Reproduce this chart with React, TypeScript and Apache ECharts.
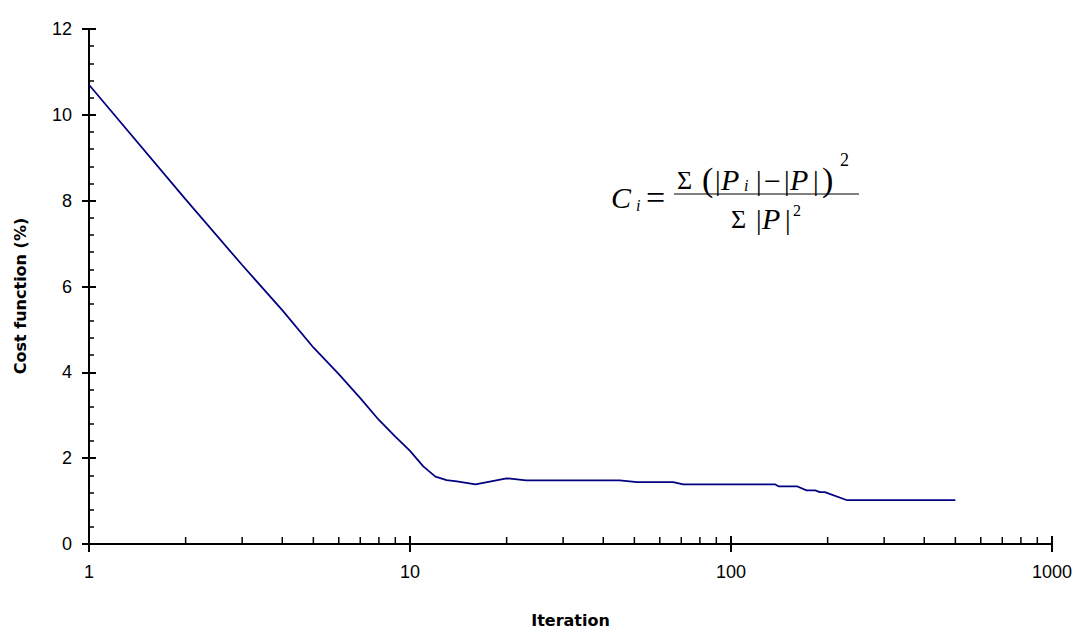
import React, { useEffect, useRef } from "react";
import * as echarts from "echarts";

// Data
const iterations = [1, 2, 3, 4, 5, 6, 7, 8, 9, 10, 11, 12, 13, 14, 16, 20, 23, 45, 51, 66, 71, 137, 141, 161, 172, 183, 189, 196, 230, 500];
const cost = [10.7, 8.03, 6.5, 5.45, 4.58, 3.96, 3.4, 2.89, 2.5, 2.17, 1.81, 1.57, 1.49, 1.46, 1.39, 1.53, 1.48, 1.48, 1.44, 1.44, 1.39, 1.39, 1.34, 1.34, 1.25, 1.25, 1.21, 1.21, 1.02, 1.02];
const xMinorTicks = [2, 3, 4, 5, 6, 7, 8, 9, 20, 30, 40, 50, 60, 70, 80, 90, 200, 300, 400, 500, 600, 700, 800, 900];
const xTitle = "Iteration";
const yTitle = "Cost function (%)";

const serif = "'Liberation Serif', 'Times New Roman', serif";
const sans = "'Liberation Sans', Arial, sans-serif";
const bold = "'DejaVu Sans', sans-serif";

function t(text: string, x: number, y: number, size: number, italic = false) {
  return {
    type: "text",
    x,
    y,
    silent: true,
    style: {
      text,
      fontSize: size,
      fontFamily: serif,
      fontStyle: italic ? "italic" : "normal",
      fill: "#000",
      textAlign: "left",
      textVerticalAlign: "middle",
    },
  };
}

export default function App() {
  const ref = useRef<HTMLDivElement>(null);
  useEffect(() => {
    if (!ref.current) return;
    const chart = echarts.init(ref.current, null, { renderer: "svg" });
    const lineData = iterations.map((v, i) => [v, cost[i]]);
    const tickStyle = { color: "#000", width: 2 };
    chart.setOption({
      animation: false,
      backgroundColor: "#fff",
      grid: { left: 89, right: 30, top: 29, bottom: 80, containLabel: false },
      xAxis: [
        {
          type: "log",
          logBase: 10,
          min: 1,
          max: 1000,
          position: "bottom",
          axisLine: { show: true, lineStyle: { color: "#000", width: 2 } },
          axisTick: { show: true, inside: true, length: 8, lineStyle: tickStyle },
          axisLabel: {
            color: "#000",
            fontSize: 18,
            fontFamily: sans,
            margin: 19,
            formatter: (v: number) => String(Math.round(v)),
          },
          splitLine: { show: false },
          name: xTitle,
          nameLocation: "middle",
          nameGap: 68,
          nameTextStyle: { color: "#000", fontSize: 16, fontWeight: "bold", fontFamily: bold },
        },
        {
          type: "log",
          logBase: 10,
          min: 1,
          max: 1000,
          position: "bottom",
          axisLine: { show: false },
          axisTick: { show: true, inside: false, length: 8, lineStyle: tickStyle },
          axisLabel: { show: false },
          splitLine: { show: false },
        },
      ],
      yAxis: [
        {
          type: "value",
          min: 0,
          max: 12,
          interval: 2,
          position: "left",
          axisLine: { show: true, lineStyle: { color: "#000", width: 2 } },
          axisTick: { show: true, inside: false, length: 7, lineStyle: tickStyle },
          axisLabel: {
            color: "#000",
            fontSize: 18,
            fontFamily: sans,
            margin: 17,
            verticalAlign: "middle",
            padding: [0, 0, 10, 0],
          },
          splitLine: { show: false },
        },
        {
          type: "value",
          min: 0,
          max: 12,
          interval: 2,
          position: "left",
          axisLine: { show: false },
          axisTick: { show: true, inside: true, length: 7, lineStyle: tickStyle },
          minorTick: { show: true, splitNumber: 5, length: 5, lineStyle: { color: "#000", width: 1.5 } },
          axisLabel: { show: false },
          splitLine: { show: false },
        },
      ],
      series: [
        {
          type: "custom",
          xAxisIndex: 0,
          yAxisIndex: 0,
          silent: true,
          data: xMinorTicks.map((v) => [v, 0]),
          renderItem: (params: any, api: any) => {
            const p = api.coord([api.value(0), api.value(1)]);
            return {
              type: "line",
              shape: { x1: p[0], y1: p[1], x2: p[0], y2: p[1] - 7 },
              style: { stroke: "#000", lineWidth: 1.5 },
            };
          },
        },
        {
          type: "line",
          xAxisIndex: 0,
          yAxisIndex: 0,
          data: lineData,
          showSymbol: false,
          symbol: "none",
          lineStyle: { color: "#000080", width: 1.75 },
          z: 5,
        },
      ],
      graphic: [
        {
          type: "text",
          x: 20,
          y: 296,
          rotation: Math.PI / 2,
          silent: true,
          style: {
            text: yTitle,
            fontSize: 16,
            fontWeight: "bold",
            fontFamily: bold,
            fill: "#000",
            textAlign: "center",
            textVerticalAlign: "middle",
          },
        },
        t("C", 611, 197, 30, true),
        t("i", 636, 205, 16, true),
        t("=", 646, 197, 34),
        { type: "line", silent: true, shape: { x1: 674, y1: 194, x2: 859, y2: 194 }, style: { stroke: "#000", lineWidth: 1 } },
        t("Σ", 677, 180, 26),
        t("(", 702, 179, 34),
        t("|", 715, 180, 28),
        t("P", 721, 179, 30, true),
        t("i", 744, 185, 16, true),
        t("|", 756, 180, 28),
        t("−", 764, 180, 30),
        t("|", 784, 180, 28),
        t("P", 790, 179, 30, true),
        t("|", 813, 180, 28),
        t(")", 822, 179, 34),
        t("2", 840, 160, 18),
        t("Σ", 731, 219, 26),
        t("|", 756, 219, 28),
        t("P", 762, 218, 30, true),
        t("|", 785, 219, 28),
        t("2", 793, 210, 16),
      ],
    });
    return () => chart.dispose();
  }, []);
  return (
    <div
      ref={ref}
      style={{ position: "fixed", left: 0, top: 0, width: 1082, height: 633, background: "#fff" }}
    />
  );
}
